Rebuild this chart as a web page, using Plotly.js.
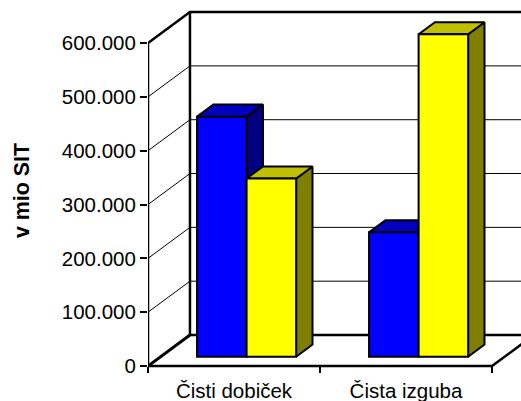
<!DOCTYPE html>
<html><head><meta charset="utf-8">
<script src="https://cdn.plot.ly/plotly-3.0.0.min.js"></script>
<style>html,body{margin:0;padding:0;background:#fff}</style></head>
<body><div id="chart" style="width:521px;height:401px"></div>
<script>
const categories = ["Čisti dobiček", "Čista izguba"];
const blueValues = [446000, 231000];
const yellowValues = [331000, 599000];
const tickValues = [0, 100000, 200000, 300000, 400000, 500000, 600000];
const tickLabels = ["0", "100.000", "200.000", "300.000", "400.000", "500.000", "600.000"];

const DX = 0.244, DY = 57600;       // oblique shift of full depth, in axis units
const BAR_W = 0.288, D0 = 0.3, D1 = 0.69;
const XMAX = 373 / 172, YMIN = -27860, YMAX = 680000;
const FONT = "Liberation Sans, Arial, sans-serif";

function px(x, d) { return x + d * DX; }
function py(v, d) { return v + d * DY; }
function line(pts, width, z) {
  return {type: "scatter", mode: "lines", x: pts.map(p => px(p[0], p[2])), y: pts.map(p => py(p[1], p[2])),
    line: {color: "#000", width: width, simplify: false}, hoverinfo: "skip", showlegend: false, cliponaxis: false, zorder: z};
}
function face(pts, color, z) {
  return {type: "scatter", mode: "lines", fill: "toself", fillcolor: color,
    x: pts.map(p => px(p[0], p[2])), y: pts.map(p => py(p[1], p[2])),
    line: {color: "#000", width: 2, simplify: false}, hoverinfo: "skip", showlegend: false, zorder: z};
}

const traces = [];
// walls and grid
tickValues.slice(1, -1).forEach(v => {
  traces.push(line([[0, v, 0], [0, v, 1]], 1, 0));
  traces.push(line([[0, v, 1], [XMAX, v, 1]], 1, 0));
});
const maxTick = tickValues[tickValues.length - 1];
traces.push(line([[XMAX, maxTick, 1], [0, maxTick, 1], [0, 0, 1], [XMAX, 0, 1]], 2.5, 0));
traces.push(line([[0, maxTick, 1], [0, maxTick, 0], [0, 0, 0]], 2.5, 0));
traces.push(line([[0, 0, 0], [2, 0, 0], [2, 0, 1]], 2.5, 0));
traces.push(line([[0, 0, 0], [0, 0, 1]], 3, 0));

// bars
function series(values, offset, fr, tp, sd, z, name) {
  values.forEach((v, i) => {
    const l = i + 0.5 + offset, r = l + BAR_W;
    traces.push(face([[r, 0, D0], [r, 0, D1], [r, v, D1], [r, v, D0], [r, 0, D0]], sd, z));
    traces.push(face([[l, v, D0], [l, v, D1], [r, v, D1], [r, v, D0], [l, v, D0]], tp, z));
  });
  traces.push({type: "bar", name: name, x: values.map((v, i) => px(i + 0.5 + offset + BAR_W / 2, D0)), y: values,
    base: values.map(() => py(0, D0)), width: BAR_W, marker: {color: fr, line: {color: "#000", width: 2}},
    showlegend: false, zorder: z + 1});
}
series(blueValues, -BAR_W, "#0000FF", "#0000C0", "#000080", 1, "A");
series(yellowValues, 0, "#FFFF00", "#C0C000", "#808000", 3, "B");

const layout = {
  width: 521, height: 401, margin: {l: 148, r: 0, t: 0, b: 20},
  paper_bgcolor: "#fff", plot_bgcolor: "#fff", barmode: "overlay", showlegend: false,
  font: {family: FONT, color: "#000"},
  xaxis: {range: [0, XMAX], showgrid: false, zeroline: false, showline: false, anchor: "free", position: 15 / 381,
    tickmode: "array", tickvals: [0.5, 1.5], ticktext: categories, ticks: "", tickfont: {size: 20.5}, ticklabelstandoff: 10,
    minor: {tickmode: "array", tickvals: [0, 1, 2], ticks: "outside", ticklen: 6, tickwidth: 2, tickcolor: "#000", showgrid: false}},
  yaxis: {range: [YMIN, YMAX], showgrid: false, zeroline: false, showline: false,
    tickmode: "array", tickvals: tickValues, ticktext: tickLabels, ticks: "outside", ticklen: 7, tickwidth: 2,
    tickcolor: "#000", tickfont: {size: 20.5},
    title: {text: "<b>v mio SIT</b>", font: {size: 21.4}, standoff: 26}}
};
Plotly.newPlot("chart", traces, layout, {displayModeBar: false, staticPlot: true});
</script></body></html>
